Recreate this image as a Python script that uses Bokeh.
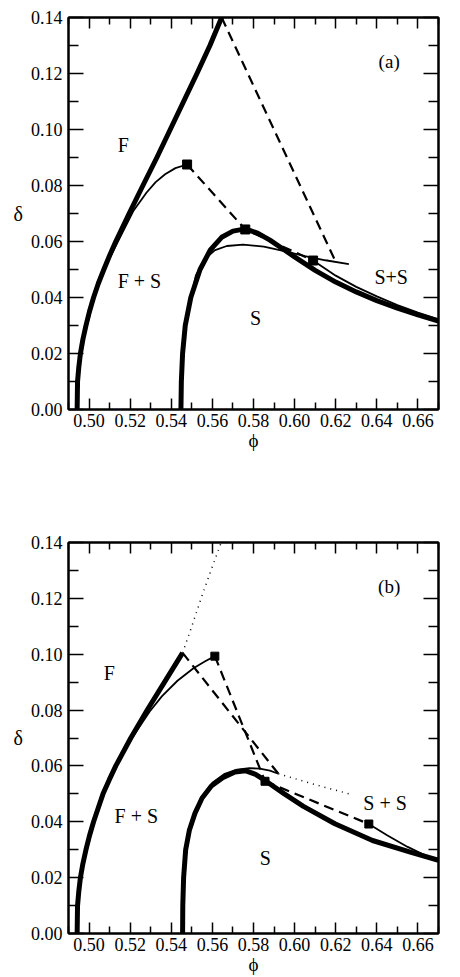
from bokeh.plotting import figure
from bokeh.layouts import column
from bokeh.models import LinearAxis, FixedTicker, Range1d, CustomLabelingPolicy
from bokeh.core.properties import value
from bokeh.embed import file_html
from bokeh.resources import INLINE

# ---------------- ticks ----------------
x_ticks = [0.50, 0.52, 0.54, 0.56, 0.58, 0.60, 0.62, 0.64, 0.66]
x_tick_labels = ["0.50", "0.52", "0.54", "0.56", "0.58", "0.60", "0.62", "0.64", "0.66"]
x_minor = [0.49, 0.51, 0.53, 0.55, 0.57, 0.59, 0.61, 0.63, 0.65, 0.67]
y_ticks = [0.00, 0.02, 0.04, 0.06, 0.08, 0.10, 0.12, 0.14]
y_tick_labels = ["0.00", "0.02", "0.04", "0.06", "0.08", "0.10", "0.12", "0.14"]
y_minor = [0.01, 0.03, 0.05, 0.07, 0.09, 0.11, 0.13]

# ---------------- panel (a) ----------------
a_fluid_x = [0.4942, 0.4943, 0.4944, 0.4950, 0.4958, 0.4970, 0.4985, 0.5002, 0.5022, 0.5045, 0.5072, 0.5100, 0.5130, 0.5195, 0.5262, 0.5330, 0.5395, 0.5460, 0.5525, 0.5588, 0.5645]
a_fluid_y = [0.000, 0.005, 0.010, 0.015, 0.020, 0.025, 0.030, 0.035, 0.040, 0.045, 0.050, 0.055, 0.060, 0.070, 0.080, 0.090, 0.100, 0.110, 0.120, 0.130, 0.140]
a_fluid_thin_x = [0.4990, 0.5025, 0.5072, 0.5110, 0.5149, 0.5217, 0.5280, 0.5324, 0.5370, 0.5420, 0.5477]
a_fluid_thin_y = [0.030, 0.040, 0.050, 0.0555, 0.0612, 0.0711, 0.0775, 0.0812, 0.0840, 0.0862, 0.0875]
a_solid_x = [0.5447, 0.5449, 0.5455, 0.5468, 0.5495, 0.5540, 0.5590, 0.5645, 0.5700, 0.5760, 0.5820, 0.5880, 0.5940, 0.6000, 0.6100, 0.6200, 0.6300, 0.6400, 0.6500, 0.6600, 0.6700]
a_solid_y = [0.000, 0.010, 0.020, 0.030, 0.040, 0.050, 0.057, 0.0615, 0.0637, 0.0645, 0.0630, 0.0605, 0.0575, 0.0545, 0.0497, 0.0455, 0.0420, 0.0389, 0.0362, 0.0338, 0.0316]
a_solid_thin_x = [0.5495, 0.5520, 0.5560, 0.5610, 0.5670, 0.5750, 0.5850, 0.5950, 0.6050, 0.6150, 0.6264]
a_solid_thin_y = [0.0400, 0.0480, 0.0535, 0.0568, 0.0584, 0.0589, 0.0582, 0.0566, 0.0548, 0.0533, 0.0519]
a_ss_thin_x = [0.6090, 0.6200, 0.6300, 0.6400, 0.6500, 0.6600, 0.6700]
a_ss_thin_y = [0.0532, 0.0478, 0.0438, 0.0404, 0.0373, 0.0346, 0.0322]
a_tie1_x = [0.5477, 0.5760, 0.6090]
a_tie1_y = [0.0875, 0.0643, 0.0532]
a_tie2_x = [0.5645, 0.6197]
a_tie2_y = [0.1400, 0.0532]
a_pts_x = [0.5477, 0.5760, 0.6090]
a_pts_y = [0.0875, 0.0643, 0.0532]

# ---------------- panel (b) ----------------
b_fluid_x = [0.4942, 0.4943, 0.4944, 0.4950, 0.4958, 0.4970, 0.4985, 0.5002, 0.5022, 0.5045, 0.5068, 0.5098, 0.5130, 0.5203, 0.5283, 0.5367, 0.5455]
b_fluid_y = [0.000, 0.005, 0.010, 0.015, 0.020, 0.025, 0.030, 0.035, 0.040, 0.045, 0.050, 0.055, 0.060, 0.070, 0.080, 0.090, 0.1005]
b_fluid_dot_x = [0.5455, 0.5500, 0.5545, 0.5593, 0.5643]
b_fluid_dot_y = [0.1005, 0.1100, 0.1200, 0.1300, 0.1400]
b_fluid_thin_x = [0.4990, 0.5025, 0.5072, 0.5130, 0.5180, 0.5233, 0.5295, 0.5355, 0.5430, 0.5508, 0.5565, 0.5612]
b_fluid_thin_y = [0.030, 0.040, 0.050, 0.060, 0.0665, 0.0727, 0.0795, 0.0850, 0.0905, 0.0950, 0.0975, 0.0993]
b_solid_x = [0.5455, 0.5456, 0.5460, 0.5470, 0.5488, 0.5515, 0.5550, 0.5595, 0.5650, 0.5710, 0.5760, 0.5810, 0.5856, 0.5950, 0.6043, 0.6196, 0.6379, 0.6563, 0.6700]
b_solid_y = [0.000, 0.010, 0.020, 0.030, 0.037, 0.043, 0.0485, 0.0528, 0.0558, 0.0578, 0.0583, 0.0570, 0.0548, 0.0500, 0.0455, 0.0393, 0.0333, 0.0291, 0.0262]
b_solid_thin_x = [0.5550, 0.5600, 0.5660, 0.5720, 0.5780, 0.5830, 0.5880, 0.5921]
b_solid_thin_y = [0.0485, 0.0540, 0.0572, 0.0587, 0.0592, 0.0590, 0.0583, 0.0572]
b_ss_thin_x = [0.6361, 0.6450, 0.6550, 0.6620, 0.6700]
b_ss_thin_y = [0.0392, 0.0352, 0.0310, 0.0285, 0.0262]
b_ss_dot_x = [0.5921, 0.6100, 0.6265]
b_ss_dot_y = [0.0572, 0.0533, 0.0500]
b_tie1_x = [0.5455, 0.5921]
b_tie1_y = [0.1005, 0.0572]
b_tie2_x = [0.5612, 0.5856]
b_tie2_y = [0.0993, 0.0545]
b_tie3_x = [0.5856, 0.6361]
b_tie3_y = [0.0545, 0.0392]
b_pts_x = [0.5612, 0.5856, 0.6361]
b_pts_y = [0.0993, 0.0545, 0.0392]

# ---------------- region labels ----------------
a_lab_x = [0.5167, 0.5245, 0.5810, 0.6470]
a_lab_y = [0.0943, 0.0460, 0.0328, 0.0475]
a_lab_t = ["F", "F + S", "S", "S+S"]
b_lab_x = [0.5098, 0.5230, 0.5857, 0.6440]
b_lab_y = [0.0931, 0.0422, 0.0269, 0.0469]
b_lab_t = ["F", "F + S", "S", "S + S"]
panel_tag = ["(a)", "(b)"]
tag_x = 0.646
tag_y = 0.1243

FONT = "Liberation Serif"
HIDE = "for (const i of Array.from(indices)) { indices.unset(i) }\nreturn indices"


def make_fig(height, top, bottom):
    p = figure(width=460, height=height, x_range=Range1d(0.49, 0.67), y_range=Range1d(0.0, 0.14),
               output_backend="svg", toolbar_location=None,
               min_border_left=68, min_border_right=1, min_border_top=top, min_border_bottom=bottom)
    p.xgrid.grid_line_color = None
    p.ygrid.grid_line_color = None
    p.outline_line_color = "black"
    p.outline_line_width = 2
    p.outline_line_alpha = 1.0
    p.background_fill_color = "white"
    p.border_fill_color = "white"

    bottom_ax = p.below[0]
    left_ax = p.left[0]
    bottom_ax.ticker = FixedTicker(ticks=x_ticks, minor_ticks=x_minor)
    left_ax.ticker = FixedTicker(ticks=y_ticks, minor_ticks=y_minor)
    bottom_ax.major_label_overrides = dict(zip(x_ticks, x_tick_labels))
    left_ax.major_label_overrides = dict(zip(y_ticks, y_tick_labels))

    top_ax = LinearAxis(ticker=FixedTicker(ticks=x_ticks, minor_ticks=x_minor),
                        major_label_policy=CustomLabelingPolicy(code=HIDE),
                        major_label_standoff=0)
    right_ax = LinearAxis(ticker=FixedTicker(ticks=y_ticks, minor_ticks=y_minor),
                          major_label_policy=CustomLabelingPolicy(code=HIDE),
                          major_label_standoff=0)
    p.add_layout(top_ax, "above")
    p.add_layout(right_ax, "right")

    for ax in (bottom_ax, top_ax):
        ax.major_tick_in = 11
        ax.minor_tick_in = 7
    for ax in (left_ax, right_ax):
        ax.major_tick_in = 15
        ax.minor_tick_in = 10
    for ax in (bottom_ax, top_ax, left_ax, right_ax):
        ax.major_tick_out = 0
        ax.minor_tick_out = 0
        ax.axis_line_color = "black"
        ax.axis_line_width = 2
        ax.major_tick_line_color = "black"
        ax.minor_tick_line_color = "black"
        ax.major_tick_line_width = 1.5
        ax.minor_tick_line_width = 1.5
        ax.major_label_text_font = FONT
        ax.major_label_text_color = "black"
        ax.axis_label_text_font = FONT
        ax.axis_label_text_font_style = "normal"
        ax.axis_label_text_color = "black"

    bottom_ax.major_label_text_font_size = "18px"
    bottom_ax.major_label_standoff = 4
    bottom_ax.axis_label = "ϕ"
    bottom_ax.axis_label_text_font_size = "19px"
    bottom_ax.axis_label_standoff = 0
    left_ax.major_label_text_font_size = "18px"
    left_ax.major_label_standoff = 6
    left_ax.axis_label = "δ"
    left_ax.axis_label_orientation = "horizontal"
    left_ax.axis_label_text_font_size = "20px"
    left_ax.axis_label_standoff = 5
    return p


def thick(p, x, y):
    p.line(x, y, line_color="black", line_width=5, line_join="round", line_cap="butt")


def thin(p, x, y):
    p.line(x, y, line_color="black", line_width=1.8, line_join="round")


def dashed(p, x, y):
    p.line(x, y, line_color="black", line_width=2.2, line_dash="10 6")


def dotted(p, x, y):
    p.line(x, y, line_color="black", line_width=1.5, line_dash="1 5")


def labels(p, xs, ys, ts, tag):
    p.text(xs, ys, text=ts, text_font=value(FONT), text_font_size="20px",
           text_align="center", text_baseline="middle", text_color="black")
    p.text([tag_x], [tag_y], text=[tag], text_font=value(FONT), text_font_size="19px",
           text_align="center", text_baseline="middle", text_color="black")


# panel (a): frame top at 17, frame height 392
pa = make_fig(469, 17, 60)
thick(pa, a_fluid_x, a_fluid_y)
thin(pa, a_fluid_thin_x, a_fluid_thin_y)
thick(pa, a_solid_x, a_solid_y)
thin(pa, a_solid_thin_x, a_solid_thin_y)
thin(pa, a_ss_thin_x, a_ss_thin_y)
dashed(pa, a_tie1_x, a_tie1_y)
dashed(pa, a_tie2_x, a_tie2_y)
pa.scatter(a_pts_x, a_pts_y, marker="square", size=9, fill_color="black", line_color="black")
labels(pa, a_lab_x, a_lab_y, a_lab_t, panel_tag[0])

# panel (b): frame top at 542, frame height 391
pb = make_fig(508, 73, 44)
thick(pb, b_fluid_x, b_fluid_y)
dotted(pb, b_fluid_dot_x, b_fluid_dot_y)
thin(pb, b_fluid_thin_x, b_fluid_thin_y)
thick(pb, b_solid_x, b_solid_y)
thin(pb, b_solid_thin_x, b_solid_thin_y)
thin(pb, b_ss_thin_x, b_ss_thin_y)
dotted(pb, b_ss_dot_x, b_ss_dot_y)
dashed(pb, b_tie1_x, b_tie1_y)
dashed(pb, b_tie2_x, b_tie2_y)
dashed(pb, b_tie3_x, b_tie3_y)
pb.scatter(b_pts_x, b_pts_y, marker="square", size=8, fill_color="black", line_color="black")
labels(pb, b_lab_x, b_lab_y, b_lab_t, panel_tag[1])

layout = column(pa, pb, spacing=0)
open("out.html", "w").write(file_html(layout, INLINE))
